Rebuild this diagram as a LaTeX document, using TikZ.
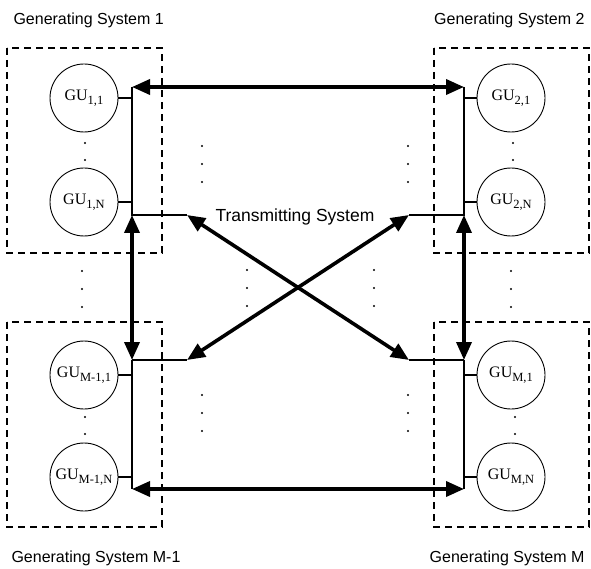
\documentclass[tikz,border=0pt]{standalone}
\usepackage{fontspec}
\setmainfont{Liberation Serif}
\setsansfont{Liberation Sans}
\usetikzlibrary{arrows.meta}
\newcommand{\gusub}[1]{\raisebox{-4pt}{\fontsize{12.5}{13}\selectfont #1}}
\tikzset{
    unit/.style={draw, circle, minimum size=68pt, inner sep=0pt, line width=0.9pt, font=\fontsize{16}{18}\selectfont},
    sysbox/.style={draw, dash pattern=on 7pt off 5pt, line width=1.2pt},
    bus/.style={line width=2.2pt},
    stub/.style={line width=1.5pt},
    link/.style={line width=3.6pt, {Triangle[length=18pt,width=15pt]}-{Triangle[length=18pt,width=15pt]}},
    title/.style={font=\sffamily\fontsize{16}{18}\selectfont},
}

\begin{document}
\begin{tikzpicture}[x=1pt, y=-1pt]
                \useasboundingbox (0,0) rectangle (591,569);

                % System boxes
                \draw[sysbox] (7,48) rectangle (162,253);
                \draw[sysbox] (434,48) rectangle (589,253);
                \draw[sysbox] (7,322) rectangle (162,527);
                \draw[sysbox] (434,322) rectangle (589,527);

                % Generating units
                \node[unit] (g11) at (84,98) {GU\gusub{1,1}};
                \node[unit] (g1n) at (84,202) {GU\gusub{1,N}};
                \node[unit] (g21) at (511,98) {GU\gusub{2,1}};
                \node[unit] (g2n) at (511,202) {GU\gusub{2,N}};
                \node[unit] (gm11) at (84,375) {GU\gusub{M-1,1}};
                \node[unit] (gm1n) at (84,477) {GU\gusub{M-1,N}};
                \node[unit] (gm1) at (511,375) {GU\gusub{M,1}};
                \node[unit] (gmn) at (511,477) {GU\gusub{M,N}};

                % Bus corners
                \coordinate (b1t) at (132,87);
                \coordinate (b1b) at (132,215);
                \coordinate (t1) at (187,215);
                \coordinate (b2t) at (464,87);
                \coordinate (b2b) at (464,215);
                \coordinate (t2) at (409,215);
                \coordinate (bm1t) at (132,360);
                \coordinate (bm1b) at (132,489);
                \coordinate (tm1) at (187,360);
                \coordinate (bmt) at (464,360);
                \coordinate (bmb) at (464,489);
                \coordinate (tm) at (409,360);

                % Buses
                \draw[bus] (b1t) -- (b1b) -- (t1);
                \draw[bus] (b2t) -- (b2b) -- (t2);
                \draw[bus] (bm1t) -- (bm1b);
                \draw[bus] (bm1t) -- (tm1);
                \draw[bus] (bmt) -- (bmb);
                \draw[bus] (bmt) -- (tm);
                \draw[stub] (g11.east) -- (g11.east -| b1t);
                \draw[stub] (g1n.east) -- (g1n.east -| b1t);
                \draw[stub] (g21.west) -- (g21.west -| b2t);
                \draw[stub] (g2n.west) -- (g2n.west -| b2t);
                \draw[stub] (gm11.east) -- (gm11.east -| bm1t);
                \draw[stub] (gm1n.east) -- (gm1n.east -| bm1t);
                \draw[stub] (gm1.west) -- (gm1.west -| bmt);
                \draw[stub] (gmn.west) -- (gmn.west -| bmt);

                % Transmitting links
                \draw[link] (b1t) -- (b2t);
                \draw[link] (b1b) -- (bm1t);
                \draw[link] (b2b) -- (bmt);
                \draw[link] (bm1b) -- (bmb);
                \draw[link] (t1) -- (tm);
                \draw[link] (tm1) -- (t2);

                % Dots
                \foreach \x/\y in {202/146, 408/146, 82/271, 511/271, 247/270, 374/270, 202/395, 408/395}
                    \foreach \k in {0,1,2}
                        \fill (\x,{\y+18*\k}) circle (1.1pt);
                \foreach \x/\y in {85/143, 513/143, 85/417, 515/417}
                    \foreach \k in {0,1}
                        \fill (\x,{\y+17*\k}) circle (1.1pt);

                % Labels
                \node[title, font=\sffamily\fontsize{17.5}{19}\selectfont] (trans) at (295,217) {Transmitting System};
                \node[title, anchor=base west] (gs1) at (10,25) {Generating System 1};
                \node[title, anchor=base east] (gs2) at (588,25) {Generating System 2};
                \node[title, anchor=base west] (gsm1) at (8,562) {Generating System M-1};
                \node[title, anchor=base east] (gsm) at (588,562) {Generating System M};
            \end{tikzpicture}
\end{document}
